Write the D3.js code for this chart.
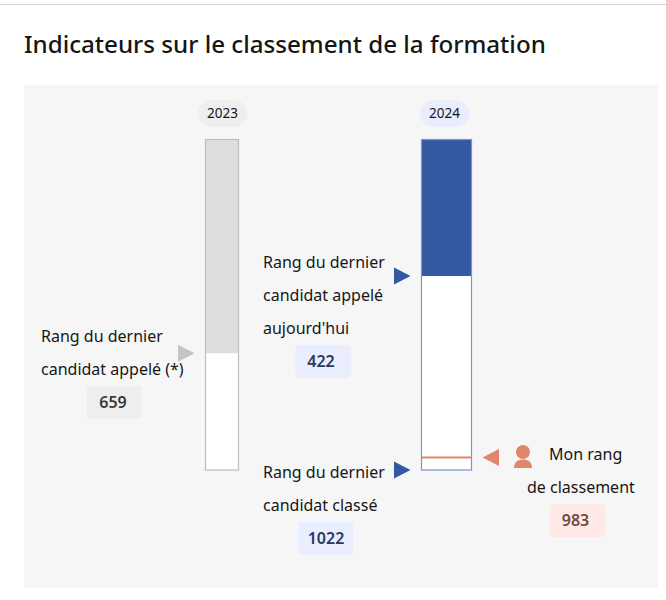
<!DOCTYPE html>
<html>
<head>
  <meta charset="utf-8">
  <title>Indicateurs sur le classement de la formation</title>
  <style>
    html, body { margin: 0; padding: 0; background: #fff; }
    svg { display: block; }
    text { font-family: "Noto Sans", sans-serif; }
  </style>
</head>
<body>
<script src="https://cdnjs.cloudflare.com/ajax/libs/d3/7.8.5/d3.min.js"></script>
<div id="vis"></div>
<script>
var title = "Indicateurs sur le classement de la formation";
var years = ["2023", "2024"];
var maxRank = [1019, 1022];
var lastCalled = [659, 422];
var lastRanked = 1022;
var myRank = 983;

var w = 666, h = 600;
var barTop = 139.5, barBottom = 470;

var svg = d3.select("#vis").append("svg")
  .attr("width", w)
  .attr("height", h);

// scales, one per year
var y23 = d3.scaleLinear().domain([0, maxRank[0]]).range([barTop, barBottom]);
var y24 = d3.scaleLinear().domain([0, maxRank[1]]).range([barTop, barBottom]);

svg.append("line")
  .attr("x1", 0).attr("x2", w).attr("y1", 4.5).attr("y2", 4.5)
  .attr("stroke", "#d4d4d4");

svg.append("text")
  .attr("x", 24).attr("y", 53)
  .attr("font-size", 24.15).attr("font-weight", 500)
  .attr("fill", "#161616")
  .text(title);

svg.append("rect")
  .attr("x", 24).attr("y", 85)
  .attr("width", 634).attr("height", 503)
  .attr("fill", "#f6f6f6");

function pill(cx, label, fill) {
  svg.append("rect")
    .attr("x", cx - 24.5).attr("y", 100)
    .attr("width", 49).attr("height", 27)
    .attr("rx", 13.5)
    .attr("fill", fill);
  svg.append("text")
    .attr("x", cx).attr("y", 118)
    .attr("text-anchor", "middle")
    .attr("font-size", 13.5)
    .attr("fill", "#161616")
    .text(label);
}
pill(222.5, years[0], "#eeeeee");
pill(444.5, years[1], "#e9edfe");

function bar(x, width, y, value, fill, stroke) {
  var y0 = y.range()[0], y1 = y.range()[1];
  svg.append("rect")
    .attr("x", x).attr("y", y0)
    .attr("width", width).attr("height", y1 - y0)
    .attr("fill", "#fff");
  svg.append("rect")
    .attr("x", x).attr("y", y0)
    .attr("width", width).attr("height", y(value) - y0)
    .attr("fill", fill);
  svg.append("rect")
    .attr("x", x).attr("y", y0)
    .attr("width", width).attr("height", y1 - y0)
    .attr("fill", "none")
    .attr("stroke", stroke)
    .attr("stroke-width", 1.2);
}
bar(205.5, 33, y23, lastCalled[0], "#dddddd", "#bdbdbd");
bar(421.5, 50, y24, lastCalled[1], "#3558a2", "#7c93d6");

svg.append("line")
  .attr("x1", 422).attr("x2", 471)
  .attr("y1", y24(myRank)).attr("y2", y24(myRank))
  .attr("stroke", "#e1856d").attr("stroke-width", 2);

// dir 1 points right, -1 points left
function arrow(x, y, dir, fill) {
  svg.append("path")
    .attr("d", d3.line()([[x, y - 8.5], [x + dir * 16.5, y], [x, y + 8.5]]) + "Z")
    .attr("fill", fill);
}
arrow(178, y23(lastCalled[0]), 1, "#c4c4c4");
arrow(394, y24(lastCalled[1]), 1, "#3558a2");
arrow(394, y24(lastRanked), 1, "#3558a2");
arrow(499, y24(myRank), -1, "#e1856d");

function lines(x, ys, labels) {
  labels.forEach(function(t, i) {
    svg.append("text")
      .attr("x", x[i]).attr("y", ys + i * 33)
      .attr("font-size", 16)
      .attr("fill", "#161616")
      .text(t);
  });
}
lines([41, 41], 342, ["Rang du dernier", "candidat appelé (*)"]);
lines([263, 263, 263], 268, ["Rang du dernier", "candidat appelé", "aujourd'hui"]);
lines([263, 263], 478, ["Rang du dernier", "candidat classé"]);
lines([549, 527], 460, ["Mon rang", "de classement"]);

function chip(cx, tx, y, value, fill, color) {
  svg.append("rect")
    .attr("x", cx - 27.5).attr("y", y)
    .attr("width", 55).attr("height", 33)
    .attr("rx", 4)
    .attr("fill", fill);
  svg.append("text")
    .attr("x", tx).attr("y", y + 22)
    .attr("text-anchor", "middle")
    .attr("font-size", 16).attr("font-weight", 600)
    .attr("fill", color)
    .text(value);
}
chip(114.5, 113, 386, lastCalled[0], "#eeeeee", "#3a3a3a");
chip(323, 321, 345, lastCalled[1], "#e9edfe", "#273961");
chip(325.5, 326, 522, lastRanked, "#e9edfe", "#273961");
chip(577.5, 575.5, 504, myRank, "#fee9e6", "#6e4b44");

// person icon
var icon = svg.append("g").attr("fill", "#e1856d");
icon.append("circle").attr("cx", 523).attr("cy", 452).attr("r", 7);
icon.append("path").attr("d", "M514,468 C514,462 518,459.5 523,459.5 C528,459.5 532,462 532,468 Z");
</script>
</body>
</html>
